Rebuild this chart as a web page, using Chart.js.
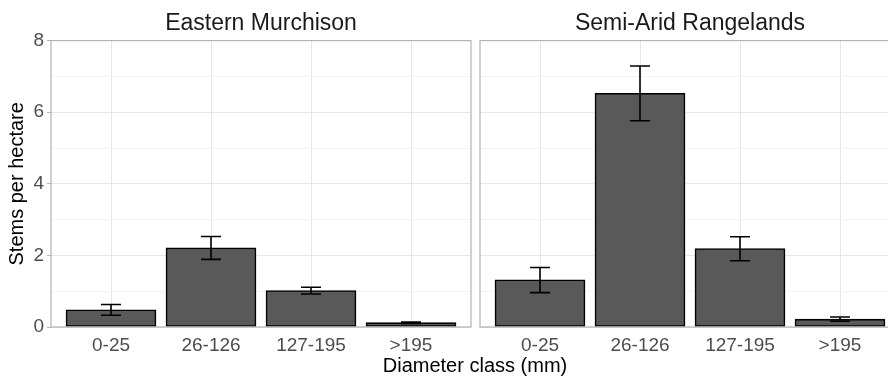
<!DOCTYPE html>
<html>
<head>
<meta charset="utf-8">
<script src="https://cdn.jsdelivr.net/npm/chart.js@4"></script>
<style>
body { margin: 0; width: 888px; height: 378px; overflow: hidden; background: #fff; position: relative; font-family: "Liberation Sans", Arial, sans-serif; }
canvas { position: absolute; top: 0; }
#left { left: 0; }
#right { left: 476px; }
#xtitle { position: absolute; left: 475px; top: 355px; transform: translateX(-50%); font-size: 20px; line-height: 20px; color: #000; white-space: nowrap; }
</style>
</head>
<body>
<canvas id="left" width="476" height="378"></canvas>
<canvas id="right" width="429" height="378"></canvas>
<div id="xtitle">Diameter class (mm)</div>
<script>
// Données
const classes = ['0-25', '26-126', '127-195', '>195'];
const murchisonMean = [0.48, 2.21, 1.02, 0.12];
const murchisonLow = [0.33, 1.89, 0.92, 0.10];
const murchisonHigh = [0.63, 2.53, 1.11, 0.14];
const rangelandsMean = [1.32, 6.53, 2.19, 0.22];
const rangelandsLow = [0.96, 5.76, 1.85, 0.16];
const rangelandsHigh = [1.66, 7.29, 2.52, 0.28];

Chart.defaults.font.family = '"Liberation Sans", Arial, sans-serif';

// Barres d'erreur
const errorBars = {
    id: 'errorBars',
    afterDatasetsDraw(chart, args, opts) {
        const { ctx, scales: { x, y } } = chart;
        const half = x.getPixelForValue(1.1) - x.getPixelForValue(1);
        ctx.save();
        ctx.strokeStyle = '#000';
        ctx.lineWidth = 1.6;
        opts.low.forEach((lo, i) => {
            const px = x.getPixelForValue(i + 1);
            const y1 = y.getPixelForValue(lo);
            const y2 = y.getPixelForValue(opts.high[i]);
            ctx.beginPath();
            ctx.moveTo(px, y1); ctx.lineTo(px, y2);
            ctx.moveTo(px - half, y1); ctx.lineTo(px + half, y1);
            ctx.moveTo(px - half, y2); ctx.lineTo(px + half, y2);
            ctx.stroke();
        });
        ctx.restore();
    }
};

// Cadre du panneau
const panelBorder = {
    id: 'panelBorder',
    afterDraw(chart) {
        const { ctx, chartArea: a } = chart;
        ctx.save();
        ctx.strokeStyle = '#b3b3b3';
        ctx.lineWidth = 1.2;
        ctx.strokeRect(a.left, a.top, a.right - a.left, a.bottom - a.top);
        ctx.restore();
    }
};

function makePanel(id, title, means, low, high, showY) {
    return new Chart(document.getElementById(id), {
        type: 'bar',
        data: {
            datasets: [{
                data: means.map((v, i) => ({ x: i + 1, y: v })),
                backgroundColor: '#595959',
                borderColor: '#000',
                borderWidth: 1.6,
                borderSkipped: false,
                barThickness: 90
            }]
        },
        options: {
            responsive: false,
            animation: false,
            layout: { padding: { left: showY ? 0 : 4, right: 5, top: 0, bottom: 0 } },
            plugins: {
                legend: { display: false },
                tooltip: { enabled: false },
                title: {
                    display: true,
                    fullSize: false,
                    text: title,
                    color: '#1a1a1a',
                    font: { size: 23, weight: 'normal' },
                    padding: { top: 10, bottom: 3 }
                },
                errorBars: { low, high }
            },
            scales: {
                x: {
                    type: 'linear',
                    min: 0.4,
                    max: 4.6,
                    offset: false,
                    afterBuildTicks: s => { s.ticks = classes.map((c, i) => ({ value: i + 1 })); },
                    afterFit: s => { s.height = 51; },
                    ticks: {
                        callback: (v, i) => classes[i],
                        color: '#4d4d4d',
                        font: { size: 19 },
                        padding: 7,
                        autoSkip: false,
                        maxRotation: 0
                    },
                    grid: { offset: false, color: '#e6e6e6', drawTicks: false },
                    border: { display: false }
                },
                y: {
                    min: 0,
                    max: 8,
                    afterFit: s => { s.width = showY ? 51 : 0; },
                    ticks: {
                        display: showY,
                        stepSize: 1,
                        color: '#4d4d4d',
                        font: { size: 19 },
                        padding: 3,
                        callback: v => (v % 2 === 0 ? v : '')
                    },
                    grid: {
                        color: c => (c.tick && c.tick.value % 2 === 0 ? '#e6e6e6' : '#f4f4f4'),
                        drawTicks: showY,
                        tickLength: 4,
                        tickColor: c => (c.tick && c.tick.value % 2 === 0 ? '#b3b3b3' : 'rgba(0,0,0,0)')
                    },
                    border: { display: false },
                    title: {
                        display: showY,
                        text: 'Stems per hectare',
                        color: '#000',
                        font: { size: 20 },
                        padding: { top: 5, bottom: 0 }
                    }
                }
            }
        },
        plugins: [errorBars, panelBorder]
    });
}

makePanel('left', 'Eastern Murchison', murchisonMean, murchisonLow, murchisonHigh, true);
makePanel('right', 'Semi-Arid Rangelands', rangelandsMean, rangelandsLow, rangelandsHigh, false);
</script>
</body>
</html>
